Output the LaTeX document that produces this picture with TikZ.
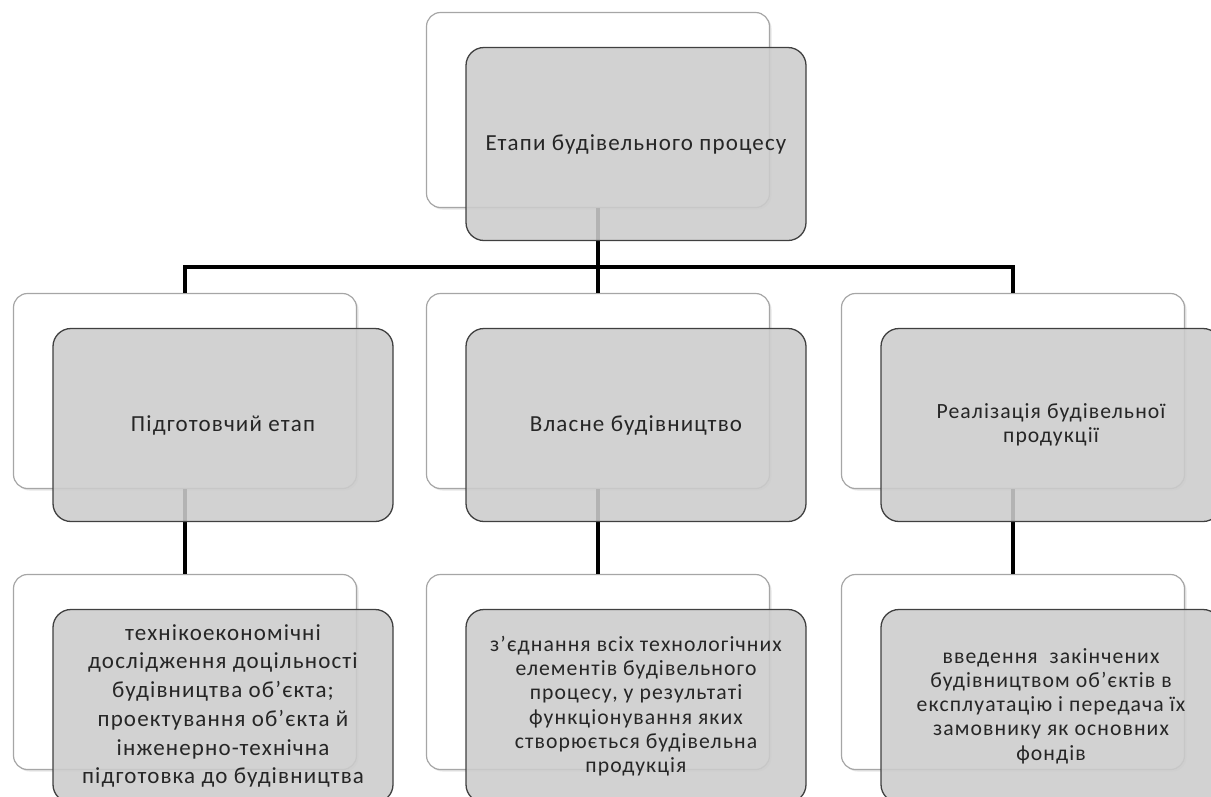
\documentclass[tikz,border=0pt]{standalone}
\usepackage{fontspec}
\setmainfont{Carlito}[LetterSpace=5]
\usetikzlibrary{calc,shadows}
\begin{document}
\begin{tikzpicture}[x=1pt,y=-1pt,
  back/.style={draw=black!35, line width=1.2pt, fill=white, rounded corners=14pt, minimum width=343pt, minimum height=195pt, drop shadow={opacity=0.2, shadow xshift=2pt, shadow yshift=-2pt}},
  front/.style={draw=black!75, line width=1.3pt, fill=black!20, fill opacity=0.88, text opacity=1, rounded corners=18pt, minimum width=340pt, minimum height=193pt, align=center, font=\fontsize{23}{28.7}\selectfont, text=black!85},
  tight/.style={font=\fontsize{21.7}{24.3}\selectfont},
  link/.style={line width=4.5pt}]
\useasboundingbox (0,0) rectangle (1211,796);
\node [back] (b0) at (598,110) {};
\node [back] (b1) at (185,391) {};
\node [back] (b2) at (598,391) {};
\node [back] (b3) at (1013,391) {};
\node [back] (c1) at (185,672) {};
\node [back] (c2) at (598,672) {};
\node [back] (c3) at (1013,672) {};
\coordinate (j0) at ($(b0.south)+(0,59)$);
\draw [link] (b0.south) -- (b2.north);
\draw [link] (b1.north) |- (j0) -| (b3.north);
\draw [link] (b1.south) -- (c1.north);
\draw [link] (b2.south) -- (c2.north);
\draw [link] (b3.south) -- (c3.north);
\node [front] (f0) at ($(b0)+(38,34)$) {Етапи будівельного процесу};
\node [front] (f1) at ($(b1)+(38,34)$) {Підготовчий етап};
\node [front] (f2) at ($(b2)+(38,34)$) {Власне будівництво};
\node [front, tight] (f3) at ($(b3)+(38,34)$) {Реалізація будівельної\\продукції};
\node [front] (g1) at ($(c1)+(38,34)$) {технікоекономічні\\дослідження доцільності\\будівництва об’єкта;\\проектування об’єкта й\\інженерно-технічна\\підготовка до будівництва};
\node [front, tight] (g2) at ($(c2)+(38,34)$) {з’єднання всіх технологічних\\елементів будівельного\\процесу, у результаті\\функціонування яких\\створюється будівельна\\продукція};
\node [front, tight] (g3) at ($(c3)+(38,34)$) {введення\ \ закінчених\\будівництвом об’єктів в\\експлуатацію і передача їх\\замовнику як основних\\фондів};
\end{tikzpicture}
\end{document}
